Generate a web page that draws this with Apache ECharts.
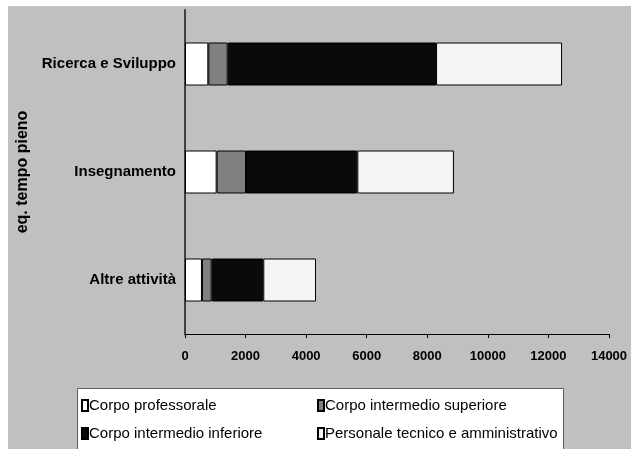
<!DOCTYPE html>
<html>
<head>
<meta charset="utf-8">
<script src="https://cdn.jsdelivr.net/npm/echarts@6/dist/echarts.min.js"></script>
<style>
  html, body { margin: 0; padding: 0; background: #ffffff; }
  #chart { width: 631px; height: 449px; }
</style>
</head>
<body>
<div id="chart"></div>
<script>
// Activity categories (top to bottom)
const categories = ['Ricerca e Sviluppo', 'Insegnamento', 'Altre attività'];

// Full-time equivalents per staff group
const professorale = [770, 1045, 560];
const intermedioSuperiore = [640, 970, 320];
const intermedioInferiore = [6880, 3675, 1705];
const personaleTecnico = [4160, 3190, 1740];

const seriesNames = [
  'Corpo professorale',
  'Corpo intermedio superiore',
  'Corpo intermedio inferiore',
  'Personale tecnico e amministrativo'
];

const xTicks = { min: 0, max: 14000, interval: 2000 };

const fills = ['#ffffff', '#808080', '#0a0a0a', '#f5f5f5'];
const values = [professorale, intermedioSuperiore, intermedioInferiore, personaleTecnico];

const font = 'Liberation Sans, Arial, sans-serif';

const chart = echarts.init(document.getElementById('chart'), null, { renderer: 'canvas' });

const series = seriesNames.map((name, i) => ({
  name: name,
  type: 'bar',
  stack: 'total',
  data: values[i],
  barWidth: 43,
  itemStyle: { color: fills[i], borderColor: '#000000', borderWidth: 1 },
  emphasis: { disabled: true }
}));

const legendCommon = {
  orient: 'vertical',
  top: 393,
  icon: 'rect',
  itemWidth: 6, itemHeight: 11, itemGap: 13,
  textStyle: { fontFamily: font, fontSize: 15, color: '#000000', padding: [0, 0, 0, -4] },
  selectedMode: false
};

chart.setOption({
  animation: false,
  backgroundColor: '#ffffff',
  graphic: [
    {
      type: 'rect',
      left: 8, top: 6,
      shape: { width: 623, height: 443 },
      style: { fill: '#c0c0c0' },
      z: -10
    },
    {
      type: 'rect',
      left: 77, top: 388,
      shape: { width: 486, height: 70 },
      style: { fill: '#ffffff', stroke: '#606060', lineWidth: 1 },
      z: 0
    }
  ],
  grid: { left: 185, top: 10, right: 22, bottom: 115, containLabel: false },
  xAxis: {
    type: 'value',
    min: xTicks.min, max: xTicks.max, interval: xTicks.interval,
    axisLine: { show: true, lineStyle: { color: '#000000', width: 1 } },
    axisTick: { show: true, length: 4, lineStyle: { color: '#000000' } },
    splitLine: { show: false },
    axisLabel: {
      color: '#000000', fontFamily: font, fontWeight: 'bold', fontSize: 13, margin: 16,
      formatter: (v) => String(v)
    }
  },
  yAxis: {
    type: 'category',
    data: categories,
    inverse: true,
    name: 'eq. tempo pieno',
    nameLocation: 'middle',
    nameRotate: 90,
    nameGap: 154,
    nameTextStyle: { color: '#000000', fontFamily: font, fontWeight: 'bold', fontSize: 16 },
    axisLine: { show: true, lineStyle: { color: '#404040', width: 2 } },
    axisTick: { show: false },
    axisLabel: {
      color: '#000000', fontFamily: font, fontWeight: 'bold', fontSize: 15, margin: 9
    }
  },
  legend: [
    Object.assign({ left: 76, data: [seriesNames[0], seriesNames[2]] }, legendCommon),
    Object.assign({ left: 312, data: [seriesNames[1], seriesNames[3]] }, legendCommon)
  ],
  series: series
});
</script>
</body>
</html>
